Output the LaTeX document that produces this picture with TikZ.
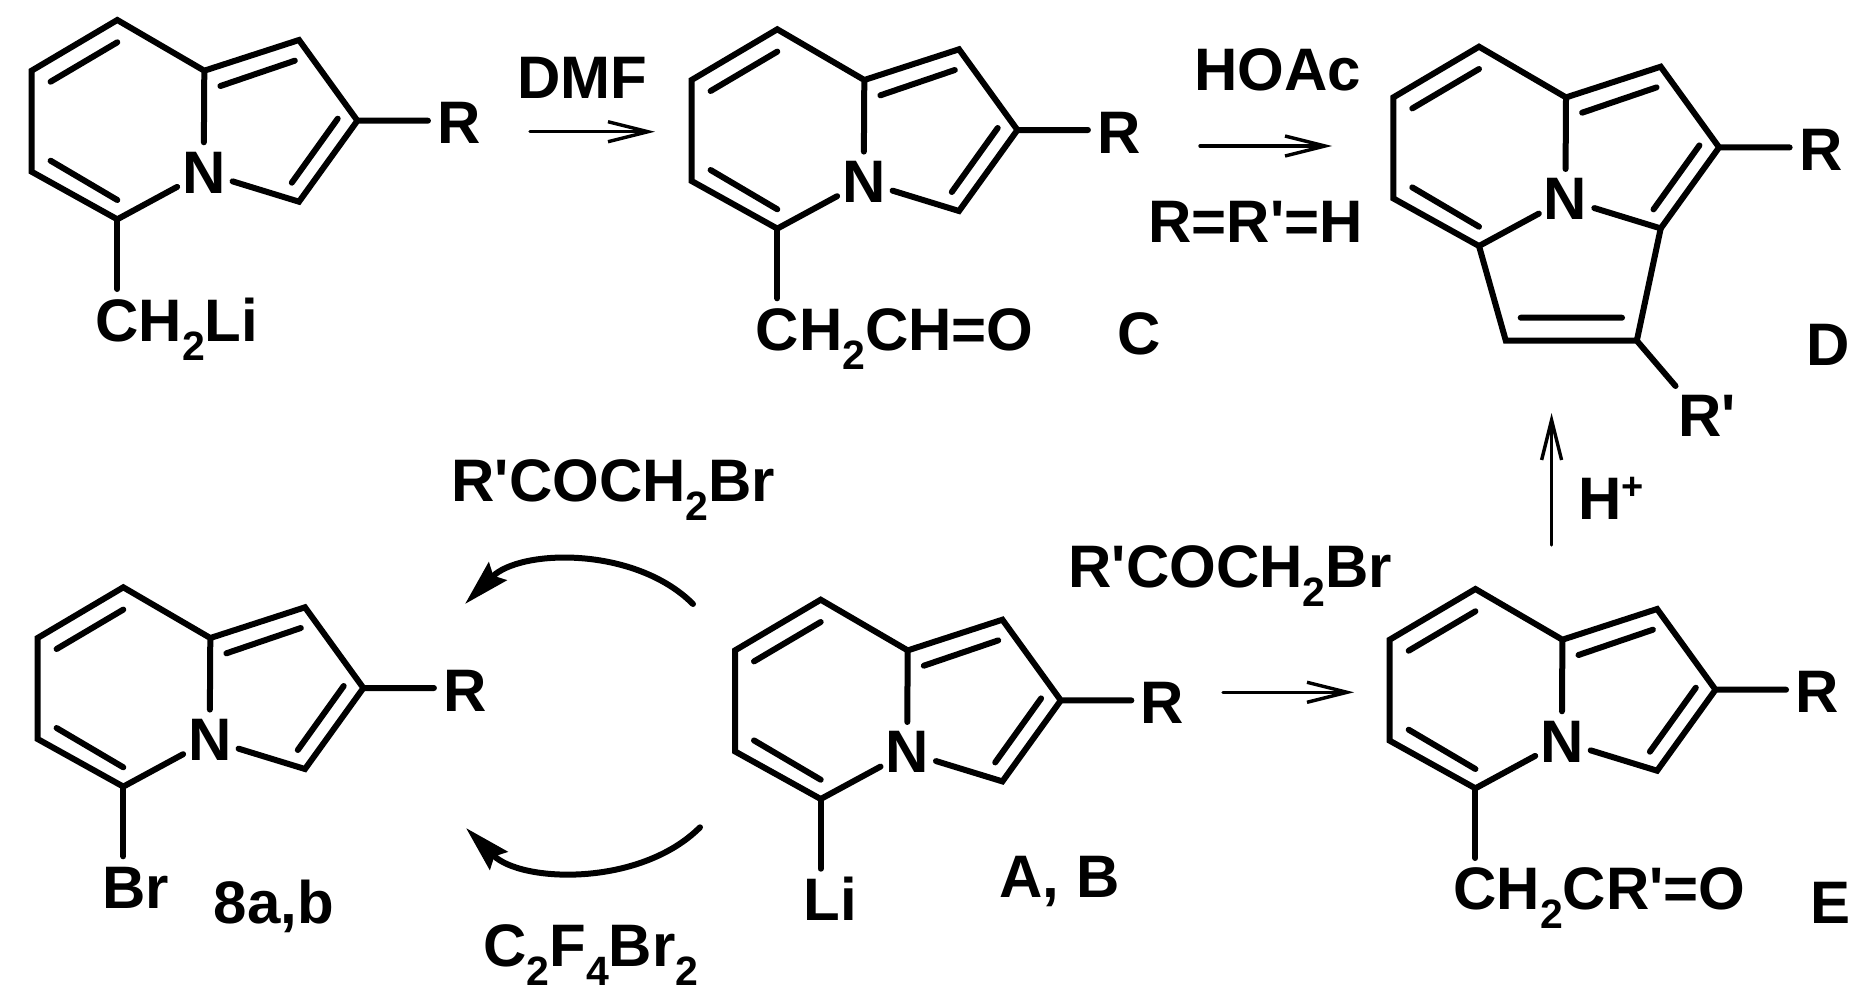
\documentclass[tikz,border=0pt]{standalone}
\usepackage{fontspec}
\setmainfont{Liberation Sans}
\usetikzlibrary{
    arrows.meta,
    calc
}
\newcommand{\lowtwo}[1]{\raisebox{-9.5pt}{\fontsize{20.5}{24}\selectfont #1}}
\newcommand{\prm}{\textquotesingle}
\tikzset{
    bond/.style={line width=3pt, line cap=round},
    rxn/.style={line width=1.7pt, line cap=round, -{Straight Barb[length=20pt, width=10pt]}},
    curly/.style={line width=3pt, line cap=round, -{Stealth[length=23pt, width=12.5pt, inset=3pt]}},
    lbl/.style={inner sep=0pt, font=\fontsize{30}{36}\bfseries\selectfont},
    ringn/.style={lbl, circle},
    rgroup/.style={lbl, inner xsep=4.5pt}
}
% one indolizine skeleton, #1 = offset, #2 = name prefix
\newcommand{\indolizine}[2]{
    \begin{scope}[shift={(#1)}, name prefix=#2-]
        \coordinate (ctop) at (117.3, 20);
        \coordinate (cul) at (31.6, 70.7);
        \coordinate (cll) at (31.6, 171.7);
        \coordinate (cbot) at (117.3, 219.3);
        \coordinate (cfus) at (204.3, 70.7);
        \coordinate (cup) at (299, 40);
        \coordinate (cr) at (357.4, 120.7);
        \coordinate (clow) at (299, 201.7);
        \coordinate (sub) at (117.3, 289);
        \coordinate (ia) at (50.6, 81.7);
        \coordinate (ib) at (117.3, 42.3);
        \coordinate (ic) at (50.6, 160.7);
        \coordinate (id) at (117.3, 200);
        \coordinate (ie) at (220.4, 86);
        \coordinate (if) at (294.8, 60.7);
        \coordinate (ig) at (337.7, 118.7);
        \coordinate (ih) at (291.8, 182.7);
        \node[ringn] (n) at (203.7, 172.5) {N};
        \node[rgroup] (r) at (459, 123.3) {R};
        \draw[bond, line join=miter]
        (n) -- (cbot) -- (cll) -- (cul) -- (ctop) -- (cfus) -- (cup) -- (cr) -- (clow) -- (n)
        (cfus) -- (n)
        (cr) -- (cr -| r.west)
        (ia) -- (ib)
        (ic) -- (id)
        (ie) -- (if)
        (ig) -- (ih);
    \end{scope}
}

\begin{document}
\begin{tikzpicture}[x=0.5pt, y=-0.5pt]
    \useasboundingbox (0, 0) rectangle (1868, 996);
    \indolizine{0, 0}{li}
    \indolizine{660, 9.3}{c}
    \indolizine{1361.7, 26.7}{d}
    \indolizine{6, 567.3}{br}
    \indolizine{703.4, 579.7}{a}
    \indolizine{1358.1, 569}{e}
    \foreach \mol in {li, c, br, a, e}
        \draw[bond] (\mol-cbot) -- (\mol-sub);

    % third ring of D
    \coordinate (d-cp) at (1505.8, 340.7);
    \coordinate (d-cq) at (1636.8, 340.7);
    \coordinate (d-ia) at (1520.7, 317.7);
    \coordinate (d-ib) at (1622, 317.7);
    \coordinate (d-rp) at (1675.5, 386);
    \draw[bond, line join=miter]
    (d-cbot) -- (d-cp) -- (d-cq) -- (d-clow)
    (d-ia) -- (d-ib)
    (d-cq) -- (d-rp);

    % straight arrows
    \coordinate (dmfa) at (530, 131.7);
    \coordinate (dmfb) at (655, 131.7);
    \coordinate (hoaca) at (1200, 146);
    \coordinate (hoacb) at (1332, 146);
    \coordinate (acida) at (1551.6, 545);
    \coordinate (acidb) at (1551.6, 413);
    \coordinate (keta) at (1223, 692.3);
    \coordinate (ketb) at (1354, 692.3);
    \draw[rxn] (dmfa) -- (dmfb);
    \draw[rxn] (hoaca) -- (hoacb);
    \draw[rxn] (acida) -- (acidb);
    \draw[rxn] (keta) -- (ketb);

    % curved arrows
    \coordinate (upa) at (693, 604);
    \coordinate (upb) at (465, 604);
    \coordinate (lowa) at (700, 827.3);
    \coordinate (lowb) at (466, 828);
    \draw[curly] (upa) to[out=135, in=45, out looseness=0.92, in looseness=0.88] (upb);
    \draw[curly] (lowa) to[out=-135, in=-45, out looseness=0.92, in looseness=0.85] (lowb);

    % labels
    \node[lbl, anchor=base west] (liname) at (95, 341.7) {CH\lowtwo{2}Li};
    \node[lbl, anchor=base] (dmf) at (582.6, 98.3) {DMF};
    \node[lbl, anchor=base west] (cname) at (755.4, 350.7) {CH\lowtwo{2}CH=O};
    \node[lbl, anchor=base] (clab) at (1139.6, 354.5) {C};
    \node[lbl, anchor=base] (hoac) at (1277.5, 90) {HOAc};
    \node[lbl, anchor=base] (cond) at (1255.7, 242.7) {R=R\prm=H};
    \node[lbl, anchor=base west] (rprime) at (1678, 436.7) {R\prm};
    \node[lbl, anchor=base] (dlab) at (1828, 365.7) {D};
    \node[lbl, anchor=base west] (hplus) at (1578, 519) {H\raisebox{10pt}{\fontsize{19}{22}\selectfont +}};
    \node[lbl, anchor=base west] (bromo) at (451, 501) {R\prm COCH\lowtwo{2}Br};
    \node[lbl, anchor=base west] (ketone) at (1068, 587) {R\prm COCH\lowtwo{2}Br};
    \node[lbl, anchor=base] (brname) at (135.5, 908) {Br};
    \node[lbl, anchor=base] (eightab) at (274, 923) {8a,b};
    \node[lbl, anchor=base west] (tfe) at (483, 966.3) {C\lowtwo{2}F\lowtwo{4}Br\lowtwo{2}};
    \node[lbl, anchor=base] (liatom) at (830, 920.7) {Li};
    \node[lbl, anchor=base] (ablab) at (1059.5, 897) {A, B};
    \node[lbl, anchor=base west] (ename) at (1453, 909.7) {CH\lowtwo{2}CR\prm =O};
    \node[lbl, anchor=base] (elab) at (1830.5, 923) {E};
\end{tikzpicture}
\end{document}
